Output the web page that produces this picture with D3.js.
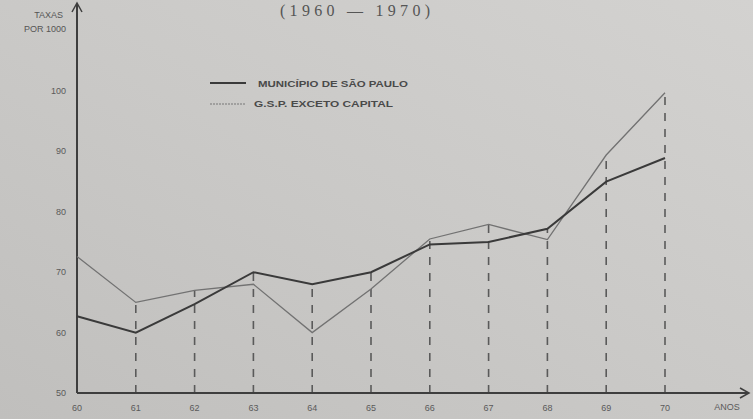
<!DOCTYPE html>
<html><head><meta charset="utf-8">
<script src="https://cdn.jsdelivr.net/npm/d3@7"></script>
<style>html,body{margin:0;padding:0;background:#c9c8c6;overflow:hidden}</style>
</head><body>
<svg id="c" width="753" height="419"></svg>
<script>
const years = [60,61,62,63,64,65,66,67,68,69,70];
const yearLabels = ["60","61","62","63","64","65","66","67","68","69","70"];
const municipio = [62.7,60.0,64.7,70.0,68.0,70.0,74.6,75.0,77.2,85.0,88.9];
const gsp = [72.6,65.0,67.0,68.0,60.0,67.2,75.5,77.9,75.4,89.4,99.7];
const yTicks = [50,60,70,80,90,100];
const seriesNames = ["MUNICÍPIO DE SÃO PAULO","G.S.P.  EXCETO CAPITAL"];

const svg = d3.select("#c");
const defs = svg.append("defs");
const g = defs.append("linearGradient").attr("id","bg").attr("x1","0").attr("y1","1").attr("x2","1").attr("y2","0");
g.append("stop").attr("offset","0").attr("stop-color","#c0bfbd");
g.append("stop").attr("offset","0.5").attr("stop-color","#cac9c7");
g.append("stop").attr("offset","1").attr("stop-color","#d3d2d0");
svg.append("rect").attr("width",753).attr("height",419).attr("fill","url(#bg)");

const x = d3.scaleLinear().domain([60,70]).range([77,665]);
const y = d3.scaleLinear().domain([50,100]).range([393,91]);
const axisY = 393;
const sans = "Liberation Sans Narrow, Liberation Sans, sans-serif";

// title
svg.append("text").attr("x",355).attr("y",16).attr("text-anchor","middle")
  .attr("font-family","Liberation Serif, serif").attr("font-size",16).attr("fill","#555")
  .attr("textLength",150).attr("lengthAdjust","spacing")
  .text("(1960  —  1970)");

// axis label
svg.append("text").attr("x",63).attr("y",18).attr("text-anchor","end")
  .attr("font-family",sans).attr("font-size",9).attr("fill","#555").text("TAXAS");
svg.append("text").attr("x",66).attr("y",32).attr("text-anchor","end")
  .attr("font-family",sans).attr("font-size",9).attr("fill","#555").text("POR 1000");

// dashed verticals
svg.append("g").selectAll("line").data(years.slice(1)).join("line")
  .attr("x1",d=>x(d)).attr("x2",d=>x(d))
  .attr("y1",axisY)
  .attr("y2",(d,i)=>y(Math.max(municipio[i+1],gsp[i+1])))
  .attr("stroke","#5a5a5a").attr("stroke-width",1.6).attr("stroke-dasharray","8,8");

// axes
const axCol = "#3e3e3e";
svg.append("line").attr("x1",77).attr("x2",748).attr("y1",axisY).attr("y2",axisY).attr("stroke",axCol).attr("stroke-width",2);
svg.append("path").attr("d",`M740,${axisY-5} L749,${axisY} L740,${axisY+5}`).attr("fill","none").attr("stroke",axCol).attr("stroke-width",1.5);
svg.append("line").attr("x1",77).attr("x2",77).attr("y1",axisY).attr("y2",4).attr("stroke",axCol).attr("stroke-width",2);
svg.append("path").attr("d",`M72,12 L77,3 L82,12`).attr("fill","none").attr("stroke",axCol).attr("stroke-width",1.5);

// y tick labels
svg.append("g").selectAll("text").data(yTicks).join("text")
  .attr("x",66).attr("y",d=>y(d)+3).attr("text-anchor","end")
  .attr("font-family",sans).attr("font-size",9).attr("fill","#5a5a5a")
  .text(d=>d);

// x tick labels
svg.append("g").selectAll("text").data(years).join("text")
  .attr("x",d=>x(d)).attr("y",411).attr("text-anchor","middle")
  .attr("font-family",sans).attr("font-size",9).attr("fill","#5a5a5a")
  .text((d,i)=>yearLabels[i]);
svg.append("text").attr("x",727).attr("y",410).attr("text-anchor","middle")
  .attr("font-family",sans).attr("font-size",9).attr("fill","#5a5a5a").text("ANOS");

// lines
const line = d3.line().x((d,i)=>x(years[i])).y(d=>y(d));
svg.append("path").datum(gsp).attr("d",line).attr("fill","none").attr("stroke","#727272").attr("stroke-width",1.3);
svg.append("path").datum(municipio).attr("d",line).attr("fill","none").attr("stroke","#3a3a3a").attr("stroke-width",2);

// legend
svg.append("line").attr("x1",210).attr("x2",246).attr("y1",83).attr("y2",83).attr("stroke","#3a3a3a").attr("stroke-width",2);
svg.append("line").attr("x1",210).attr("x2",246).attr("y1",104).attr("y2",104).attr("stroke","#777").attr("stroke-width",1.2).attr("stroke-dasharray","2,1");
svg.append("text").attr("x",258).attr("y",87).attr("font-family",sans)
  .attr("font-size",9.5).attr("font-weight","bold").attr("fill","#4a4a4a").attr("textLength",150).attr("lengthAdjust","spacingAndGlyphs").text(seriesNames[0]);
svg.append("text").attr("x",254).attr("y",107).attr("font-family",sans)
  .attr("font-size",9.5).attr("font-weight","bold").attr("fill","#4a4a4a").attr("textLength",139).attr("lengthAdjust","spacingAndGlyphs").text(seriesNames[1]);
</script>
</body></html>
